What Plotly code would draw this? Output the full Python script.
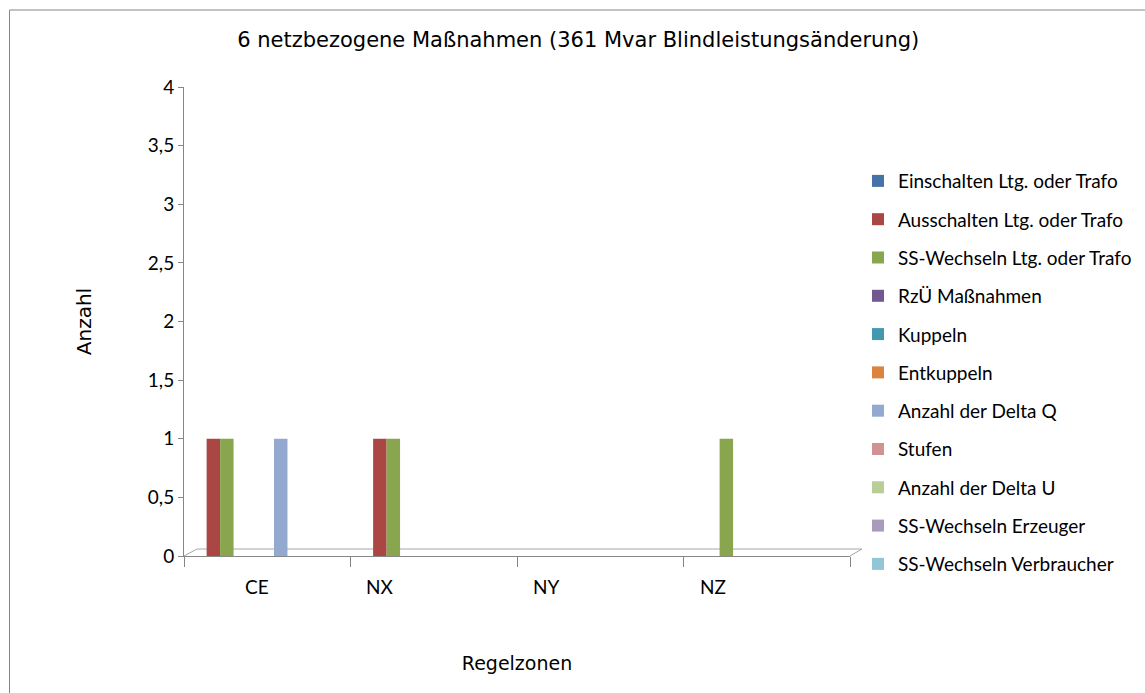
import plotly.graph_objects as go

# Regelzonen (categories)
zones = ["CE", "NX", "NY", "NZ"]

# Counts per measure type and zone
einschalten = [0, 0, 0, 0]
ausschalten = [1, 1, 0, 0]
ss_wechseln_ltg = [1, 1, 0, 1]
rzue = [0, 0, 0, 0]
kuppeln = [0, 0, 0, 0]
entkuppeln = [0, 0, 0, 0]
delta_q = [1, 0, 0, 0]
stufen = [0, 0, 0, 0]
delta_u = [0, 0, 0, 0]
ss_erzeuger = [0, 0, 0, 0]
ss_verbraucher = [0, 0, 0, 0]

series_names = [
    "Einschalten Ltg. oder Trafo",
    "Ausschalten Ltg. oder Trafo",
    "SS-Wechseln Ltg. oder Trafo",
    "RzÜ Maßnahmen",
    "Kuppeln",
    "Entkuppeln",
    "Anzahl der Delta Q",
    "Stufen",
    "Anzahl der Delta U",
    "SS-Wechseln Erzeuger",
    "SS-Wechseln Verbraucher",
]
series_values = [
    einschalten, ausschalten, ss_wechseln_ltg, rzue, kuppeln, entkuppeln,
    delta_q, stufen, delta_u, ss_erzeuger, ss_verbraucher,
]
colors = [
    "#4572A7", "#AA4643", "#89A54E", "#71588F", "#4198AF", "#DB843D",
    "#93A9CF", "#D19392", "#B9CD96", "#A99BBD", "#92C5D6",
]

label_font = "Lato, 'Noto Sans', sans-serif"
title_font = "'DejaVu Sans', Verdana, sans-serif"
axis_color = "#868686"

fig = go.Figure()
for name, vals, col in zip(series_names, series_values, colors):
    fig.add_trace(go.Bar(
        x=zones, y=vals, name=name, legendgroup=name,
        marker=dict(color=col, line=dict(width=0)),
    ))

# category labels sit slightly left of the group centres
label_shift = [-10, -54, -54, -54]
for z, dx in zip(zones, label_shift):
    fig.add_annotation(
        x=z, y=0, xref="x", yref="y", text=z, showarrow=False,
        xshift=dx, yshift=-30, yanchor="middle",
        font=dict(family=label_font, size=19, color="#000000"),
    )

# chart frame and the flat floor under the bars
frame = dict(
    type="rect", xref="paper", yref="paper",
    x0=-174.5 / 666, x1=2.0, y0=-1.0, y1=546 / 469,
    line=dict(color=axis_color, width=1), fillcolor="rgba(0,0,0,0)",
    layer="below",
)
floor = dict(
    type="path", xref="paper", yref="paper",
    path="M 0 0 L 0.0195 0.0149 L 1.018 0.0149 L 1 0",
    line=dict(color="#A6A6A6", width=1), fillcolor="rgba(0,0,0,0)",
    layer="below",
)

fig.update_layout(
    width=1145, height=693,
    margin=dict(l=184, r=295, t=87, b=137, autoexpand=False),
    paper_bgcolor="white", plot_bgcolor="white",
    separators=",.",
    barmode="group", bargap=0.11, bargroupgap=0,
    title=dict(
        text="6 netzbezogene Maßnahmen (361 Mvar Blindleistungsänderung)",
        x=0.505, xref="container", xanchor="center",
        y=1 - 40 / 693, yref="container", yanchor="middle",
        font=dict(family=title_font, size=21, color="#000000"),
    ),
    showlegend=True,
    legend=dict(
        x=1.012, xanchor="left", y=0.84, yanchor="top",
        font=dict(family=label_font, size=19, color="#000000"),
        tracegroupgap=10.6, itemwidth=30, bgcolor="rgba(0,0,0,0)",
    ),
    xaxis=dict(
        type="category", showticklabels=False,
        showline=True, linecolor=axis_color, linewidth=1,
        ticks="outside", tickson="boundaries", ticklen=10,
        tickcolor=axis_color, showgrid=False, zeroline=False,
        title=dict(text="Regelzonen", standoff=100,
                   font=dict(family=title_font, size=19, color="#000000")),
    ),
    yaxis=dict(
        range=[0, 4], dtick=0.5, tick0=0,
        showline=True, linecolor=axis_color, linewidth=1,
        ticks="outside", ticklen=5, tickcolor=axis_color,
        showgrid=False, zeroline=False,
        tickfont=dict(family=label_font, size=19, color="#000000"),
        title=dict(text="Anzahl", standoff=50,
                   font=dict(family=title_font, size=20, color="#000000")),
    ),
    shapes=[frame, floor],
)

fig.write_html("out.html")
